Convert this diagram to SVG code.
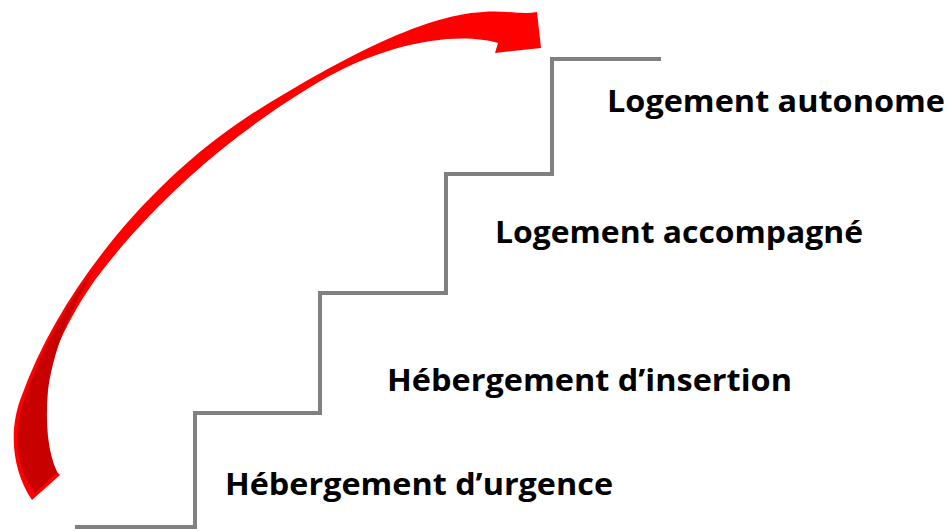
<svg xmlns="http://www.w3.org/2000/svg" width="949" height="531" viewBox="0 0 949 531">
<style>
.step{fill:none;stroke:#808080;stroke-width:4;stroke-linejoin:miter}
.lbl{font-family:"Open Sans","Noto Sans","Liberation Sans",sans-serif;font-weight:bold;font-size:30px;fill:#000}
.arrow{fill:#FF0000}
.shade{fill:#C80000}
</style>
<g id="stairs">
<path class="step" d="M75,527 L195,527 L195,413 L320,413 L320,293 L446,293 L446,174 L552,174 L552,59 L661,59"/>
</g>
<g id="connectors">
<path class="arrow" d="M32,500 C12,470 8,430 22,395 C60,290 150,180 250,115 C330,65 420,15 483,12 C505,10 522,15 537,12 L541,48 L495,53 L498,43 C460,32 390,40 317,83 C260,117 170,180 95,280 C60,330 40,380 42,420 C43,445 50,465 60,475 Z"/>
<path class="shade" d="M35,493 C16,468 12,432 25,397 C42,350 65,305 100,262 C78,295 55,340 48,390 C45,425 48,452 57,472 Z"/>
</g>
<g id="n1"><text class="lbl" x="607" y="112" textLength="338" lengthAdjust="spacingAndGlyphs">Logement autonome</text></g>
<g id="n2"><text class="lbl" x="495" y="243" textLength="368" lengthAdjust="spacingAndGlyphs">Logement accompagné</text></g>
<g id="n3"><text class="lbl" x="387" y="391" textLength="405" lengthAdjust="spacingAndGlyphs">Hébergement d’insertion</text></g>
<g id="n4"><text class="lbl" x="225" y="495" textLength="388" lengthAdjust="spacingAndGlyphs">Hébergement d’urgence</text></g>
</svg>
